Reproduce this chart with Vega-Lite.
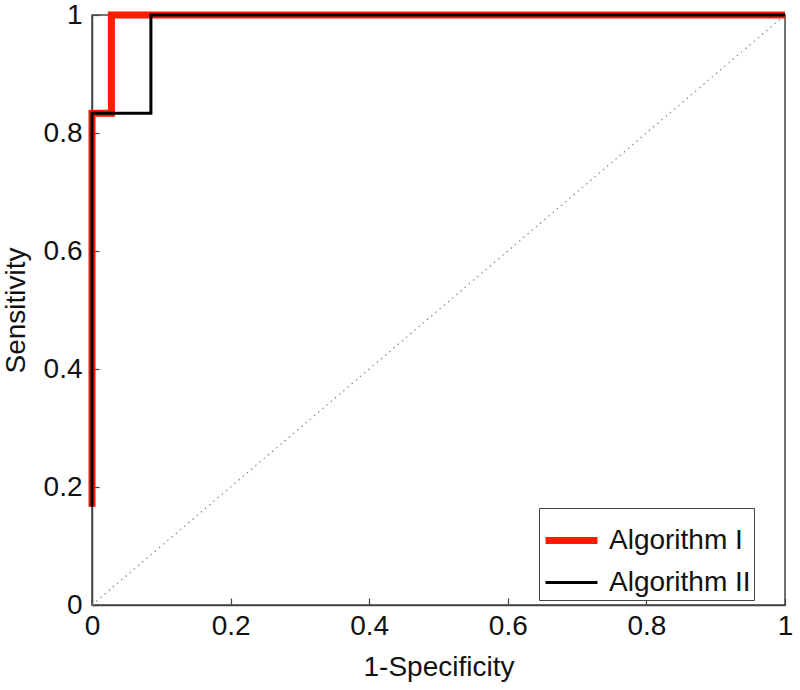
{
  "$schema": "https://vega.github.io/schema/vega-lite/v6.json",
  "width": 693,
  "height": 590,
  "autosize": {"type": "none"},
  "padding": {"left": 92, "top": 15, "right": 15, "bottom": 85},
  "background": "white",
  "config": {
    "font": "Liberation Sans",
    "view": {"stroke": "#444", "strokeWidth": 1.5},
    "axis": {
      "grid": false,
      "domainColor": "#444",
      "domainWidth": 1.5,
      "tickColor": "#444",
      "tickWidth": 1.2,
      "tickSize": -7,
      "labelFontSize": 28,
      "labelColor": "#111",
      "titleFontSize": 28,
      "titleFontWeight": "normal",
      "titleColor": "#111",
      "labelFlush": false
    }
  },
  "datasets": {
    "roc": [
      {"alg": "Algorithm I", "o": 1, "fpr": 0, "tpr": 0.1667},
      {"alg": "Algorithm I", "o": 2, "fpr": 0, "tpr": 0.8333},
      {"alg": "Algorithm I", "o": 3, "fpr": 0.028, "tpr": 0.8333},
      {"alg": "Algorithm I", "o": 4, "fpr": 0.028, "tpr": 1},
      {"alg": "Algorithm I", "o": 5, "fpr": 1, "tpr": 1},
      {"alg": "Algorithm II", "o": 1, "fpr": 0, "tpr": 0.1667},
      {"alg": "Algorithm II", "o": 2, "fpr": 0, "tpr": 0.8333},
      {"alg": "Algorithm II", "o": 3, "fpr": 0.085, "tpr": 0.8333},
      {"alg": "Algorithm II", "o": 4, "fpr": 0.085, "tpr": 1},
      {"alg": "Algorithm II", "o": 5, "fpr": 1, "tpr": 1}
    ],
    "diag": [
      {"fpr": 0, "tpr": 0},
      {"fpr": 1, "tpr": 1}
    ]
  },
  "layer": [
    {
      "data": {"name": "diag"},
      "mark": {"type": "line", "color": "#888", "strokeWidth": 1.2, "strokeDash": [1.5, 4]},
      "encoding": {
        "x": {"field": "fpr", "type": "quantitative", "scale": {"domain": [0, 1], "nice": false}, "axis": {"title": "1-Specificity", "values": [0, 0.2, 0.4, 0.6, 0.8, 1], "labelPadding": 14, "titlePadding": 13, "format": "~g"}},
        "y": {"field": "tpr", "type": "quantitative", "scale": {"domain": [0, 1], "nice": false}, "axis": {"title": "Sensitivity", "values": [0, 0.2, 0.4, 0.6, 0.8, 1], "labelPadding": 17, "titlePadding": 13, "format": "~g"}}
      }
    },
    {
      "data": {"name": "roc"},
      "mark": {"type": "line", "clip": false},
      "encoding": {
        "x": {"field": "fpr", "type": "quantitative"},
        "y": {"field": "tpr", "type": "quantitative"},
        "order": {"field": "o", "type": "quantitative"},
        "color": {
          "field": "alg", "type": "nominal",
          "scale": {"domain": ["Algorithm I", "Algorithm II"], "range": ["#ff1a00", "#000000"]},
          "legend": {
            "title": null,
            "orient": "none",
            "legendX": 447,
            "legendY": 493,
            "symbolType": "stroke",
            "symbolSize": 2700,
            "labelFontSize": 28,
            "labelColor": "#111",
            "labelOffset": 8,
            "strokeColor": "#444",
            "fillColor": "white",
            "padding": 3,
            "rowPadding": -33
          }
        },
        "strokeWidth": {
          "field": "alg", "type": "nominal",
          "scale": {"domain": ["Algorithm I", "Algorithm II"], "range": [7, 3]}
        }
      }
    }
  ]
}
